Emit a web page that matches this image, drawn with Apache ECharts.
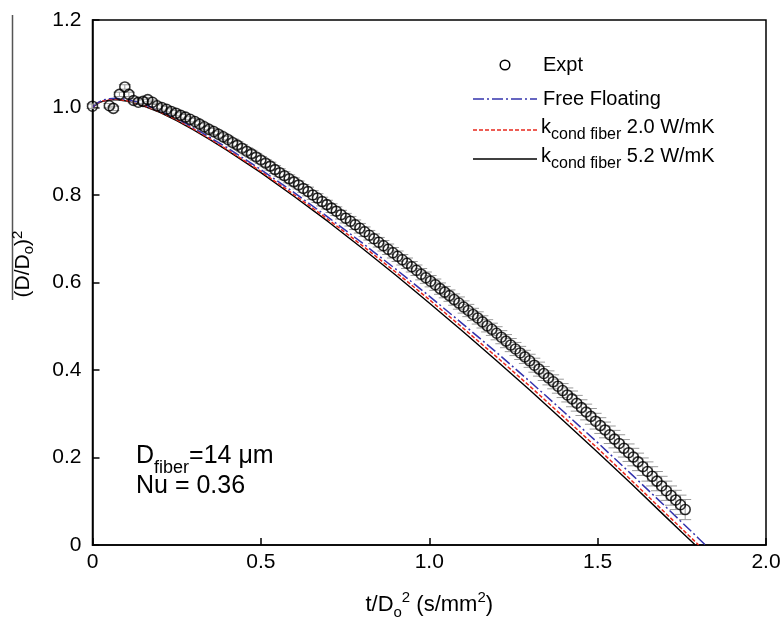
<!DOCTYPE html>
<html><head><meta charset="utf-8">
<script src="https://cdn.jsdelivr.net/npm/echarts@6/dist/echarts.min.js"></script>
<style>html,body{margin:0;padding:0;background:#fff}#c{width:780px;height:619px}</style>
</head><body><div id="c"></div>
<script>
// ---- tick labels ----
const xTickLabels = ['0', '0.5', '1.0', '1.5', '2.0'];
const yTickLabels = ['0', '0.2', '0.4', '0.6', '0.8', '1.0', '1.2'];

// ---- legend names ----
const legendNames = ['Expt', 'Free Floating', 'kcond fiber 2.0 W/mK', 'kcond fiber 5.2 W/mK'];

// ---- experimental data ----
const exptT = [0.000, 0.050, 0.062, 0.080, 0.096, 0.108, 0.122, 0.136, 0.150, 0.164, 0.178,
  0.192, 0.206, 0.220, 0.234, 0.248, 0.262, 0.276, 0.290, 0.304, 0.318, 0.332, 0.346, 0.360, 0.374, 0.388,
  0.402, 0.416, 0.430, 0.444, 0.458, 0.472, 0.486, 0.500, 0.514, 0.528, 0.542, 0.556, 0.570, 0.584, 0.598,
  0.612, 0.626, 0.640, 0.654, 0.668, 0.682, 0.696, 0.710, 0.724, 0.738, 0.752, 0.766, 0.780, 0.794, 0.808,
  0.822, 0.836, 0.850, 0.864, 0.878, 0.892, 0.906, 0.920, 0.934, 0.948, 0.962, 0.976, 0.990, 1.004, 1.018,
  1.032, 1.046, 1.060, 1.074, 1.088, 1.102, 1.116, 1.130, 1.144, 1.158, 1.172, 1.186, 1.200, 1.214, 1.228,
  1.242, 1.256, 1.270, 1.284, 1.298, 1.312, 1.326, 1.340, 1.354, 1.368, 1.382, 1.396, 1.410, 1.424, 1.438,
  1.452, 1.466, 1.480, 1.494, 1.508, 1.522, 1.536, 1.550, 1.564, 1.578, 1.592, 1.606, 1.620, 1.634, 1.648,
  1.662, 1.676, 1.690, 1.704, 1.718, 1.732, 1.746, 1.760];
const exptD2 = [1.003, 1.004, 0.998, 1.030, 1.047, 1.030, 1.016, 1.012, 1.014, 1.018, 1.012,
  1.004, 1.000, 0.996, 0.991, 0.987, 0.982, 0.978, 0.973, 0.968, 0.962, 0.956, 0.950, 0.945, 0.939, 0.933,
  0.927, 0.920, 0.914, 0.907, 0.900, 0.894, 0.887, 0.880, 0.873, 0.866, 0.858, 0.851, 0.844, 0.837, 0.830,
  0.823, 0.815, 0.808, 0.800, 0.793, 0.785, 0.778, 0.770, 0.763, 0.755, 0.747, 0.740, 0.732, 0.724, 0.716,
  0.708, 0.700, 0.692, 0.684, 0.676, 0.668, 0.660, 0.652, 0.644, 0.636, 0.628, 0.619, 0.611, 0.603, 0.595,
  0.586, 0.578, 0.570, 0.561, 0.553, 0.544, 0.536, 0.527, 0.519, 0.510, 0.501, 0.493, 0.484, 0.475, 0.466,
  0.457, 0.448, 0.439, 0.430, 0.421, 0.411, 0.402, 0.392, 0.382, 0.373, 0.363, 0.353, 0.343, 0.334, 0.324,
  0.314, 0.304, 0.294, 0.283, 0.273, 0.263, 0.252, 0.242, 0.232, 0.221, 0.211, 0.201, 0.190, 0.179, 0.168,
  0.157, 0.146, 0.135, 0.124, 0.113, 0.103, 0.092, 0.081];
const exptErr = [0.005, 0.005, 0.005, 0.005, 0.005, 0.005, 0.005, 0.005, 0.005, 0.005, 0.005,
  0.006, 0.006, 0.006, 0.006, 0.006, 0.006, 0.006, 0.006,
  0.007, 0.007, 0.007, 0.007, 0.007, 0.007, 0.007, 0.007,
  0.008, 0.008, 0.008, 0.008, 0.008, 0.008, 0.008, 0.008,
  0.009, 0.009, 0.009, 0.009, 0.009, 0.009, 0.009, 0.009,
  0.010, 0.010, 0.010, 0.010, 0.010, 0.010, 0.010, 0.010,
  0.011, 0.011, 0.011, 0.011, 0.011, 0.011, 0.011, 0.011,
  0.012, 0.012, 0.012, 0.012, 0.012, 0.012, 0.012, 0.012,
  0.013, 0.013, 0.013, 0.013, 0.013, 0.013, 0.013, 0.013,
  0.014, 0.014, 0.014, 0.014, 0.014, 0.014, 0.014, 0.014,
  0.015, 0.015, 0.015, 0.015, 0.015, 0.015, 0.015, 0.015,
  0.016, 0.016, 0.016, 0.016, 0.016, 0.016, 0.016, 0.016,
  0.018, 0.018, 0.018, 0.018, 0.018, 0.018, 0.018, 0.018,
  0.020, 0.020, 0.020, 0.020, 0.020, 0.020, 0.020, 0.020,
  0.022, 0.022, 0.022, 0.022, 0.022, 0.022, 0.022, 0.022,
  0.023];

// ---- model curves ----
const freeT  = [0, 0.01, 0.02, 0.03, 0.05, 0.07, 0.10, 0.13, 0.16, 0.20, 0.25, 0.30, 0.35, 0.40, 0.50, 0.60, 0.70, 0.80, 0.90, 1.00, 1.10, 1.20, 1.30, 1.40, 1.50, 1.60, 1.70, 1.75, 1.80, 1.82];
const freeD2 = [1.000, 1.008, 1.013, 1.017, 1.020, 1.021, 1.019, 1.013, 1.005, 0.993, 0.975, 0.954, 0.931, 0.908, 0.858, 0.805, 0.749, 0.691, 0.631, 0.569, 0.505, 0.440, 0.373, 0.304, 0.234, 0.162, 0.089, 0.052, 0.015, 0.000];
const k20T   = [0, 0.01, 0.02, 0.03, 0.05, 0.07, 0.10, 0.13, 0.16, 0.20, 0.25, 0.30, 0.35, 0.40, 0.50, 0.60, 0.70, 0.80, 0.90, 1.00, 1.10, 1.20, 1.30, 1.40, 1.50, 1.60, 1.70, 1.75, 1.80];
const k20D2  = [1.000, 1.007, 1.012, 1.015, 1.018, 1.019, 1.016, 1.010, 1.002, 0.990, 0.972, 0.951, 0.928, 0.904, 0.854, 0.800, 0.744, 0.685, 0.624, 0.561, 0.496, 0.430, 0.362, 0.292, 0.221, 0.148, 0.074, 0.037, 0.000];
const k52T   = [0, 0.01, 0.02, 0.03, 0.05, 0.07, 0.10, 0.13, 0.16, 0.20, 0.25, 0.30, 0.35, 0.40, 0.50, 0.60, 0.70, 0.80, 0.90, 1.00, 1.10, 1.20, 1.30, 1.40, 1.50, 1.60, 1.70, 1.75, 1.79];
const k52D2  = [1.000, 1.006, 1.011, 1.014, 1.017, 1.018, 1.015, 1.009, 1.001, 0.989, 0.970, 0.949, 0.926, 0.902, 0.851, 0.796, 0.739, 0.679, 0.617, 0.553, 0.488, 0.421, 0.353, 0.283, 0.212, 0.140, 0.066, 0.029, 0.000];

const F = '"Liberation Sans", Arial, Helvetica, sans-serif';
const zip = (a, b) => a.map((v, i) => [v, b[i]]);

const COL_FREE = '#3434ad', COL_K20 = '#e8281c', COL_K52 = '#000';
const DASH_FREE = [11, 3, 2, 3], DASH_K20 = [4, 2];

const legendRichStyle = {
  sp: {fontSize: 2, lineHeight: 26},
  m: {fontSize: 20, lineHeight: 20, verticalAlign: 'top', fontFamily: F, fill: '#000'},
  s: {fontSize: 16, lineHeight: 20, verticalAlign: 'bottom', fontFamily: F, fill: '#000'}
};
const kText = n => '{sp|\u200b}{m|k}{s|cond fiber}{m| ' + n.replace('kcond fiber ', '') + '}';

const chart = echarts.init(document.getElementById('c'), null, {renderer: 'canvas'});
const option = {
  animation: false,
  backgroundColor: '#fff',
  textStyle: {fontFamily: F},
  grid: {left: 92.5, right: 14, top: 20, bottom: 74, show: true, borderColor: '#000', borderWidth: 1.5,
    containLabel: false, outerBoundsMode: 'none'},
  xAxis: {
    type: 'value', min: 0, max: 2, interval: 0.5,
    axisLine: {lineStyle: {color: '#000', width: 1.5}},
    axisTick: {inside: true, length: 7, lineStyle: {color: '#000', width: 1.5}},
    splitLine: {show: false},
    axisLabel: {fontSize: 21, color: '#000', margin: 7, fontFamily: F,
      formatter: v => xTickLabels[Math.round(v / 0.5)]},
    name: '{m|t/D}{s|o}{p|2}{m| (s/mm}{p|2}{m|)}',
    nameLocation: 'middle', nameGap: 45,
    nameTextStyle: {fontFamily: F, color: '#000', rich: {
      m: {fontSize: 22, lineHeight: 30, fontFamily: F, color: '#000'},
      s: {fontSize: 15, lineHeight: 15, verticalAlign: 'bottom', fontFamily: F, color: '#000'},
      p: {fontSize: 15, lineHeight: 15, verticalAlign: 'top', fontFamily: F, color: '#000'}
    }}
  },
  yAxis: {
    type: 'value', min: 0, max: 1.2, interval: 0.2,
    axisLine: {lineStyle: {color: '#000', width: 1.5}},
    axisTick: {inside: true, length: 7, lineStyle: {color: '#000', width: 1.5}},
    splitLine: {show: false},
    axisLabel: {fontSize: 21, color: '#000', margin: 11, fontFamily: F,
      formatter: v => yTickLabels[Math.round(v / 0.2)]}
  },
  graphic: [
    // y-axis title with its overline
    {type: 'line', shape: {x1: 12.5, y1: 15, x2: 12.5, y2: 300}, style: {stroke: '#555', lineWidth: 1.5}},
    {type: 'text', x: 23, y: 264, rotation: Math.PI / 2, style: {
      x: 0, y: 0, align: 'center', verticalAlign: 'middle',
      text: '{m|(D/D}{s|o}{m|)}{p|2}',
      rich: {
        m: {fontSize: 21, lineHeight: 26, fontFamily: F, fill: '#000'},
        s: {fontSize: 15, lineHeight: 15, verticalAlign: 'bottom', fontFamily: F, fill: '#000'},
        p: {fontSize: 15, lineHeight: 15, verticalAlign: 'top', fontFamily: F, fill: '#000'}
      }}},
    // legend
    {type: 'circle', shape: {cx: 505, cy: 65, r: 4.8}, style: {fill: 'none', stroke: '#000', lineWidth: 1.5}},
    {type: 'text', x: 543, y: 65, style: {text: legendNames[0], font: '20px ' + F, fill: '#000', verticalAlign: 'middle'}},
    {type: 'line', shape: {x1: 473, y1: 99, x2: 537, y2: 99}, style: {stroke: COL_FREE, lineWidth: 1.5, lineDash: DASH_FREE}},
    {type: 'text', x: 543, y: 99, style: {text: legendNames[1], font: '20px ' + F, fill: '#000', verticalAlign: 'middle'}},
    {type: 'line', shape: {x1: 473, y1: 130, x2: 537, y2: 130}, style: {stroke: COL_K20, lineWidth: 1.5, lineDash: DASH_K20}},
    {type: 'text', x: 541, y: 117, style: {text: kText(legendNames[2]), verticalAlign: 'top', rich: legendRichStyle}},
    {type: 'line', shape: {x1: 473, y1: 159, x2: 537, y2: 159}, style: {stroke: COL_K52, lineWidth: 1.4}},
    {type: 'text', x: 541, y: 146, style: {text: kText(legendNames[3]), verticalAlign: 'top', rich: legendRichStyle}},
    // annotation
    {type: 'text', x: 136, y: 444, style: {
      x: 0, y: 0, align: 'left', verticalAlign: 'top',
      text: '{sp|\u200b}{m|D}{s|fiber}{m|=14 μm}',
      rich: {
        sp: {fontSize: 2, lineHeight: 33},
        m: {fontSize: 25, lineHeight: 28, verticalAlign: 'top', fontFamily: F, fill: '#000'},
        s: {fontSize: 18, lineHeight: 18, verticalAlign: 'bottom', fontFamily: F, fill: '#000'}
      }}},
    {type: 'text', x: 136, y: 472, style: {
      x: 0, y: 0, align: 'left', verticalAlign: 'top',
      text: 'Nu = 0.36', font: '25px ' + F, fill: '#000', lineHeight: 28}}
  ],
  series: [
    {type: 'line', name: legendNames[3], data: zip(k52T, k52D2), symbol: 'none', showSymbol: false,
      lineStyle: {color: COL_K52, width: 1.4, type: 'solid'}, itemStyle: {color: COL_K52}, z: 2},
    {type: 'line', name: legendNames[2], data: zip(k20T, k20D2), symbol: 'none', showSymbol: false,
      lineStyle: {color: COL_K20, width: 1.5, type: DASH_K20}, itemStyle: {color: COL_K20}, z: 3},
    {type: 'line', name: legendNames[1], data: zip(freeT, freeD2), symbol: 'none', showSymbol: false,
      lineStyle: {color: COL_FREE, width: 1.5, type: DASH_FREE}, itemStyle: {color: COL_FREE}, z: 4},
    {type: 'custom', name: 'ExptErr', data: exptT.map((t, i) => [t, exptD2[i], exptErr[i]]),
      encode: {x: 0, y: 1}, z: 5, silent: true,
      renderItem: (params, api) => {
        const x = api.value(0), y = api.value(1), e = api.value(2);
        const a = api.coord([x, y + e]), b = api.coord([x, y - e]);
        const hw = 6, st = {stroke: '#9a9a9a', lineWidth: 1};
        return {type: 'group', children: [
          {type: 'line', shape: {x1: a[0], y1: a[1], x2: b[0], y2: b[1]}, style: st},
          {type: 'line', shape: {x1: a[0] - hw, y1: a[1], x2: a[0] + hw, y2: a[1]}, style: st},
          {type: 'line', shape: {x1: b[0] - hw, y1: b[1], x2: b[0] + hw, y2: b[1]}, style: st}
        ]};
      }},
    {type: 'scatter', name: legendNames[0], data: zip(exptT, exptD2), symbol: 'circle', symbolSize: 10,
      itemStyle: {color: 'rgba(255,255,255,0)', borderColor: '#000', borderWidth: 1.6}, z: 6}
  ]
};
chart.setOption(option);
</script>
</body></html>
